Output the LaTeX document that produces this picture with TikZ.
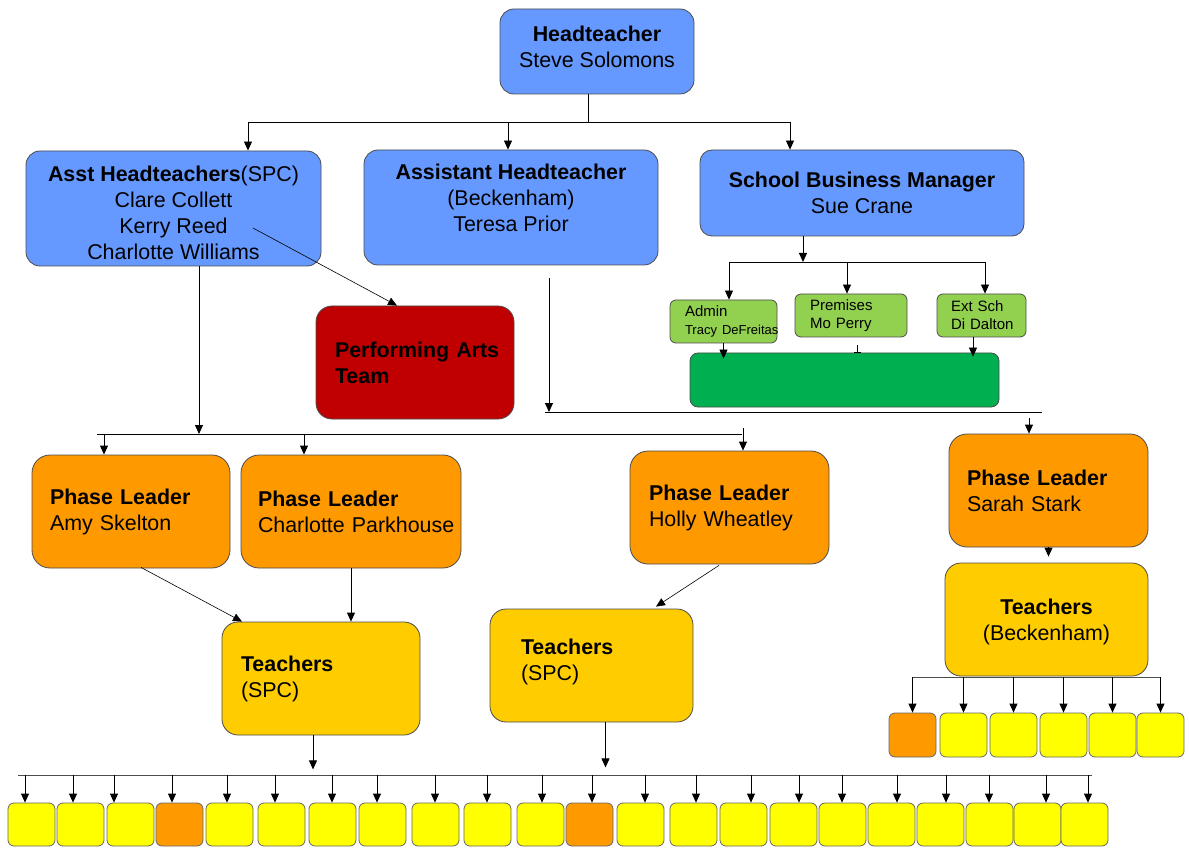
\documentclass[tikz,border=0pt]{standalone}
\usepackage{fontspec}
\setmainfont{Liberation Sans}
\usetikzlibrary{arrows.meta,calc}
\definecolor{seniorBlue}{RGB}{102,153,255}
\definecolor{phaseOrange}{RGB}{255,153,0}
\definecolor{teachGold}{RGB}{255,204,0}
\definecolor{slotYellow}{RGB}{255,255,0}
\definecolor{staffGreen}{RGB}{146,208,80}
\definecolor{teamGreen}{RGB}{0,176,80}
\definecolor{artsRed}{RGB}{192,0,0}
\newcommand{\BoxFont}{\fontsize{21.4}{26}\selectfont}
\newcommand{\StaffFont}{\fontsize{15}{18}\selectfont}
% extra room below / above a text block, to nudge it inside its box
\newcommand{\DropBy}[1]{\rule[-#1]{0pt}{0pt}}
\newcommand{\LiftBy}[1]{\rule{0pt}{#1}}

\begin{document}
\begin{tikzpicture}[x=1pt, y=-1pt,
  unit/.style={draw=black!70, line width=0.8pt, rounded corners=14pt, inner sep=0pt, font=\BoxFont},
  senior/.style={unit, fill=seniorBlue, align=center},
  phase/.style={unit, fill=phaseOrange, rounded corners=18pt, align=left, minimum height=113pt},
  teach/.style={unit, fill=teachGold, rounded corners=16pt, minimum height=113pt},
  staff/.style={unit, fill=staffGreen, rounded corners=6pt, align=left, minimum height=43pt, font=\StaffFont},
  slot/.style={draw=black!60, line width=0.8pt, rounded corners=6pt, minimum width=47pt, minimum height=43pt},
  link/.style={line width=0.8pt},
  arrow/.style={link, -{Triangle[length=9pt,width=8pt]}}
]
\useasboundingbox (0,0) rectangle (1189,850);

% senior leadership
\node[senior, minimum width=194pt, minimum height=85pt] (head) at (597,51.5) {\textbf{Headteacher}\\Steve Solomons\DropBy{10pt}};
\node[senior, minimum width=295pt, minimum height=115pt] (spc) at (173.5,208.5) {\LiftBy{23.6pt}\textbf{Asst Headteachers}(SPC)\\Clare Collett\\Kerry Reed\\Charlotte Williams};
\node[senior, minimum width=294pt, minimum height=115pt] (beck) at (511,207.5) {\textbf{Assistant Headteacher}\\(Beckenham)\\Teresa Prior\DropBy{20pt}};
\node[senior, minimum width=324pt, minimum height=86pt, rounded corners=12pt] (sbm) at (862,193) {\textbf{School Business Manager}\\Sue Crane};

% business team
\node[staff, minimum width=107pt, text width=77pt] (admin) at (723.5,321.5) {Admin\\{\fontsize{13}{17}\selectfont\mbox{Tracy DeFreitas}}};
\node[staff, minimum width=112pt, text width=82pt] (prem) at (851,315.5) {Premises\\Mo Perry};
\node[staff, minimum width=89pt, text width=61pt] (ext) at (981.5,315.5) {Ext Sch\\\mbox{Di Dalton}};
\node[unit, fill=teamGreen, rounded corners=8pt, minimum width=309pt, minimum height=54pt] (ops) at (844.5,380) {};

% performing arts
\node[unit, fill=artsRed, rounded corners=16pt, align=left, font=\BoxFont\bfseries, minimum width=198pt, minimum height=113pt, text width=160pt] (arts) at (415,362.5) {\mbox{Performing Arts}\\Team};

% phase leaders
\node[phase, minimum width=198pt, text width=162pt] (amy) at (131,511.5) {\textbf{Phase Leader}\\Amy Skelton};
\node[phase, minimum width=220pt, text width=186pt] (charl) at (351,511.5) {\textbf{Phase Leader}\\\mbox{Charlotte Parkhouse}};
\node[phase, minimum width=199pt, text width=161pt] (holly) at (729.5,507.5) {\textbf{Phase Leader}\\Holly Wheatley};
\node[phase, minimum width=199pt, text width=163pt] (sarah) at (1048.5,490.5) {\textbf{Phase Leader}\\Sarah Stark};

% teachers
\node[teach, align=left, minimum width=198pt, text width=160pt] (tspcA) at (321,678.5) {\textbf{Teachers}\\(SPC)};
\node[teach, align=left, minimum width=203pt, text width=141pt] (tspcB) at (591.5,665.5) {\textbf{Teachers}\\(SPC)\DropBy{12.5pt}};
\node[teach, align=center, minimum width=203pt] (tbeck) at (1046.5,619.5) {\LiftBy{20pt}\textbf{Teachers}\\(Beckenham)};

% head to senior team
\coordinate (hbusL) at (248,122);
\coordinate (hbusR) at (790,122);
\draw[link] ($(head.south)+(-9,0)$) -- ($(head.south |- hbusL)+(-9,0)$);
\draw[link] (hbusL) -- (hbusR);
\draw[arrow] (hbusL) -- (hbusL |- spc.north);
\draw[arrow] ($(beck.north |- hbusL)+(-3,0)$) -- ($(beck.north)+(-3,0)$);
\draw[arrow] (hbusR) -- (hbusR |- sbm.north);

% business manager to team
\coordinate (gdrop) at (803,262);
\coordinate (gbusL) at (729,262);
\coordinate (gbusR) at (985,262);
\draw[arrow] (sbm.south -| gdrop) -- (gdrop);
\draw[link] (gbusL) -- (gbusR);
\draw[arrow] (gbusL) -- (gbusL |- admin.north);
\draw[arrow] ($(prem.north |- gbusL)+(-4,0)$) -- ($(prem.north)+(-4,0)$);
\draw[arrow] (gbusR) -- (gbusR |- ext.north);
\draw[arrow, shorten >=-6pt] (admin.south) -- (admin.south |- ops.north);
\draw[link, -{Bar[width=7pt]}] ($(prem.south)+(6,8)$) -- ($(prem.south |- ops.north)+(6,0)$);
\draw[arrow, shorten >=-4pt] ($(ext.south)+(-8.5,0)$) -- ($(ext.south |- ops.north)+(-8.5,0)$);

% beckenham branch
\coordinate (bdrop) at (549,278);
\coordinate (bbusL) at (545,412);
\coordinate (bbusR) at (1042,412);
\coordinate (sdrop) at (1029,418);
\draw[arrow] (bdrop) -- (bdrop |- bbusR);
\draw[link] (bbusL) -- (bbusR);
\draw[arrow] (sdrop) -- (sdrop |- sarah.north);

% spc branch
\draw[arrow, line width=0.6pt] (253,228) coordinate (kerry) -- ($(arts.north)+(-18,0)$);
\coordinate (pjoin) at (199,434);
\coordinate (pbusL) at (97,434);
\coordinate (pbusR) at (742,434);
\draw[arrow] (spc.south -| pjoin) -- (pjoin);
\draw[link] (pbusL) -- (pbusR);
\draw[arrow] ($(amy.north |- pbusL)+(-27,0)$) -- ($(amy.north)+(-27,0)$);
\draw[arrow] ($(charl.north |- pbusL)+(-47,0)$) -- ($(charl.north)+(-47,0)$);
\draw[arrow] ($(holly.north)+(13.5,-23)$) -- ($(holly.north)+(13.5,0)$);

% phase leaders to teachers
\draw[arrow, line width=0.6pt] ($(amy.south)+(10,-1)$) -- ($(tspcA.north)+(-79,0)$);
\draw[arrow] (charl.south) -- (charl.south |- tspcA.north);
\draw[arrow, line width=0.6pt] ($(holly.south)+(-10.5,1)$) -- ($(tspcB.north)+(64.5,-2)$);
\draw[arrow] (sarah.south) -- ($(sarah.south |- tbeck.north)+(0,-6)$);
\draw[arrow] ($(tspcA.south)+(-8,0)$) -- ($(tspcA.south)+(-8,34)$);
\draw[arrow] ($(tspcB.south)+(14,0)$) -- ($(tspcB.south)+(14,45)$);

% beckenham classes
\coordinate (rbusL) at (912,677);
\coordinate (rbusR) at (1161,677);
\draw[link, black!70] (rbusL) -- (rbusR);
\foreach \lx/\col [count=\i] in {889/phaseOrange, 940/slotYellow, 990/slotYellow, 1040/slotYellow, 1089/slotYellow, 1137/slotYellow}{
  \node[slot, fill=\col, minimum height=44pt] (r\i) at (\lx+23.5,735) {};
  \draw[arrow] (r\i.north |- rbusL) -- (r\i.north);
}

% spc classes
\coordinate (busL) at (18,775);
\coordinate (busR) at (1092,775);
\draw[link, black!70] (busL) -- (busR);
\foreach \lx/\dx/\col [count=\i] in {8/-6.5/slotYellow, 57/-7.5/slotYellow, 107/-16.5/slotYellow, 156/-7.5/phaseOrange,
  206/-2.5/slotYellow, 258/-6.5/slotYellow, 309/-0.5/slotYellow, 359/-5.5/slotYellow, 412/-0.5/slotYellow,
  464/-0.5/slotYellow, 517/1.5/slotYellow, 566/2.5/phaseOrange, 617/4.5/slotYellow, 670/2.5/slotYellow,
  720/7.5/slotYellow, 770/5.5/slotYellow, 819/-0.5/slotYellow, 868/5.5/slotYellow, 917/5.5/slotYellow,
  966/-0.5/slotYellow, 1014/8.5/slotYellow, 1061/3.5/slotYellow}{
  \node[slot, fill=\col] (s\i) at (\lx+23.5,824.5) {};
  \draw[arrow] ($(s\i.north |- busL)+(\dx,0)$) -- ($(s\i.north)+(\dx,0)$);
}
\end{tikzpicture}
\end{document}
